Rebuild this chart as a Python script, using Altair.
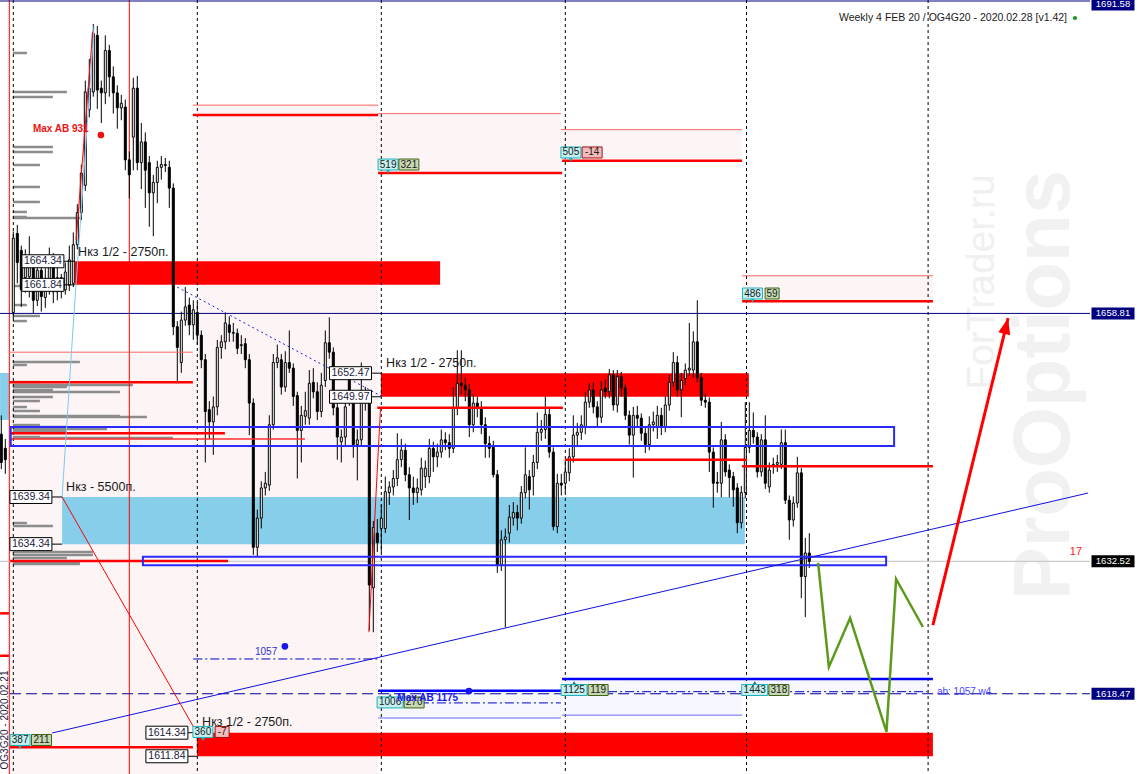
import altair as alt
import pandas as pd

W, H = 1090, 774
AXIS_PAD = 47
FONT = "Liberation Sans"
X_DOMAIN = [-3.325, 269.175]   # bar index at the left / right edge of the plot
Y_DOMAIN = [1609.96, 1692.05]  # price at the bottom / top edge of the plot

# ---------------- candles: bar index and (open, high, low, close) ----------------
candle_bars = [-3, -2] + list(range(200))
candle_ohlc = [
    (1646.0, 1648.0, 1642.3, 1643.0), (1644.5, 1645.5, 1641.8, 1643.3),
    (1658.9, 1667.5, 1658.3, 1666.8), (1667.3, 1668.2, 1662.0, 1664.2), (1665.5, 1666.0, 1659.5, 1661.3),
    (1662.6, 1665.6, 1661.0, 1664.7), (1662.7, 1667.0, 1660.5, 1664.2), (1664.2, 1665.0, 1658.8, 1660.2),
    (1660.2, 1664.3, 1659.6, 1663.4), (1663.4, 1664.8, 1659.0, 1660.6), (1660.5, 1663.6, 1659.4, 1662.3),
    (1662.1, 1665.8, 1660.8, 1664.3), (1664.3, 1665.2, 1659.9, 1661.1), (1661.1, 1663.8, 1660.2, 1662.6),
    (1662.6, 1663.0, 1660.4, 1661.3), (1661.3, 1664.2, 1660.8, 1663.2), (1661.8, 1666.0, 1661.2, 1664.5),
    (1662.0, 1667.4, 1661.6, 1666.1), (1666.1, 1670.4, 1665.6, 1669.5), (1669.5, 1674.6, 1668.7, 1673.7),
    (1672.4, 1683.5, 1671.8, 1682.3), (1680.4, 1685.8, 1679.6, 1682.7), (1682.3, 1689.5, 1681.8, 1688.5),
    (1688.3, 1689.3, 1680.5, 1682.5), (1682.7, 1683.5, 1679.0, 1682.2), (1682.2, 1688.3, 1681.0, 1686.7),
    (1686.7, 1687.3, 1681.8, 1683.9), (1683.9, 1685.0, 1680.0, 1682.2), (1682.2, 1683.0, 1678.4, 1680.6),
    (1680.6, 1682.0, 1679.3, 1681.1), (1680.7, 1681.5, 1674.0, 1675.1), (1675.1, 1676.0, 1671.0, 1673.5),
    (1677.5, 1683.8, 1674.0, 1682.7), (1682.7, 1684.0, 1674.0, 1674.8), (1674.8, 1679.0, 1672.0, 1677.0),
    (1677.0, 1678.0, 1670.0, 1674.0), (1674.8, 1675.5, 1668.0, 1671.6), (1671.6, 1673.5, 1667.0, 1672.7),
    (1672.7, 1675.0, 1670.5, 1674.3), (1674.3, 1675.5, 1673.0, 1674.6), (1674.6, 1675.3, 1673.8, 1674.5),
    (1674.3, 1675.0, 1670.0, 1672.1), (1672.1, 1672.6, 1656.5, 1657.4), (1657.4, 1658.0, 1651.4, 1655.2),
    (1653.6, 1659.0, 1652.5, 1658.1), (1658.1, 1661.6, 1657.5, 1659.5), (1659.7, 1660.5, 1656.5, 1657.6),
    (1657.6, 1660.2, 1656.0, 1659.2), (1658.9, 1660.0, 1655.5, 1656.5), (1656.5, 1657.0, 1653.0, 1653.9),
    (1653.9, 1654.5, 1643.0, 1648.4), (1648.6, 1649.5, 1645.5, 1647.3), (1647.3, 1650.0, 1643.8, 1648.9),
    (1648.9, 1656.0, 1648.0, 1655.2), (1655.2, 1656.5, 1654.0, 1655.8), (1655.8, 1658.9, 1655.0, 1657.8),
    (1657.6, 1658.5, 1655.8, 1656.8), (1656.7, 1657.8, 1655.8, 1656.8), (1656.7, 1657.2, 1654.5, 1655.1),
    (1655.4, 1656.5, 1654.5, 1655.5), (1655.6, 1656.2, 1653.0, 1653.9), (1653.9, 1654.5, 1645.9, 1649.3),
    (1649.3, 1649.8, 1633.2, 1634.0), (1634.0, 1638.0, 1633.0, 1637.1), (1637.1, 1641.0, 1636.0, 1640.3),
    (1640.3, 1642.0, 1639.5, 1640.8), (1640.6, 1648.0, 1640.0, 1647.0), (1647.0, 1654.5, 1646.5, 1653.6),
    (1653.6, 1655.5, 1653.0, 1654.1), (1653.9, 1654.5, 1650.2, 1651.0), (1651.0, 1654.8, 1650.5, 1653.6),
    (1653.6, 1657.0, 1652.5, 1653.0), (1653.0, 1653.5, 1649.0, 1650.0), (1650.1, 1650.5, 1641.3, 1646.4),
    (1646.4, 1649.0, 1643.0, 1648.0), (1647.9, 1650.5, 1647.0, 1648.5), (1647.7, 1652.8, 1647.0, 1651.4),
    (1651.5, 1653.0, 1649.8, 1650.5), (1650.5, 1651.5, 1647.5, 1648.4), (1648.4, 1652.5, 1647.8, 1651.2),
    (1651.7, 1657.0, 1651.0, 1655.7), (1655.7, 1658.4, 1654.0, 1654.7), (1654.7, 1655.2, 1648.0, 1648.8),
    (1648.8, 1649.3, 1643.3, 1645.7), (1645.2, 1646.5, 1643.0, 1645.7), (1645.7, 1650.0, 1644.8, 1648.9),
    (1651.8, 1652.5, 1649.0, 1649.7), (1649.7, 1650.2, 1643.5, 1644.9), (1644.9, 1646.5, 1641.1, 1645.4),
    (1645.4, 1653.6, 1644.8, 1649.8), (1649.9, 1651.0, 1648.5, 1649.5), (1649.4, 1650.2, 1625.2, 1630.0),
    (1629.7, 1636.8, 1625.0, 1636.1), (1635.5, 1637.0, 1633.5, 1634.5), (1636.0, 1638.5, 1633.5, 1637.1),
    (1636.0, 1641.5, 1635.5, 1639.9), (1639.8, 1641.0, 1638.5, 1640.4), (1640.4, 1642.2, 1639.5, 1641.3),
    (1641.3, 1646.1, 1640.5, 1643.3), (1643.3, 1645.5, 1642.5, 1644.3), (1644.3, 1645.0, 1641.0, 1641.7),
    (1641.7, 1642.5, 1636.9, 1640.3), (1640.3, 1641.5, 1638.5, 1639.8), (1639.8, 1641.3, 1638.7, 1640.3),
    (1640.1, 1643.5, 1639.5, 1642.4), (1641.5, 1643.2, 1640.3, 1642.4), (1641.5, 1645.5, 1640.8, 1644.5),
    (1644.5, 1645.2, 1642.0, 1643.6), (1643.6, 1645.0, 1642.5, 1644.1), (1644.1, 1646.5, 1643.5, 1645.4),
    (1645.4, 1646.2, 1644.3, 1645.1), (1645.1, 1646.0, 1643.5, 1644.5), (1644.5, 1651.0, 1644.0, 1648.8),
    (1648.8, 1654.9, 1648.0, 1651.4), (1651.4, 1654.9, 1650.2, 1651.2), (1651.2, 1652.0, 1649.5, 1650.7),
    (1650.7, 1651.3, 1645.7, 1647.0), (1647.0, 1650.2, 1646.2, 1649.3), (1649.3, 1650.0, 1647.8, 1648.8),
    (1648.8, 1649.5, 1646.0, 1647.0), (1647.0, 1647.8, 1643.5, 1645.0), (1645.0, 1645.8, 1643.5, 1644.5),
    (1644.6, 1645.3, 1641.4, 1641.7), (1641.7, 1642.2, 1631.3, 1632.1), (1632.1, 1635.8, 1631.5, 1634.8),
    (1634.8, 1636.0, 1625.5, 1635.1), (1635.5, 1638.5, 1634.5, 1637.2), (1637.1, 1638.8, 1636.3, 1637.7),
    (1637.7, 1638.5, 1635.8, 1637.1), (1637.1, 1640.5, 1636.5, 1639.8), (1639.8, 1644.6, 1639.2, 1641.7),
    (1641.5, 1642.2, 1638.0, 1640.1), (1641.5, 1643.8, 1639.5, 1643.0), (1643.0, 1648.3, 1642.3, 1646.2),
    (1646.2, 1647.5, 1645.3, 1646.5), (1646.5, 1650.0, 1645.5, 1648.1), (1648.1, 1648.8, 1643.5, 1644.1),
    (1644.1, 1644.6, 1635.8, 1636.2), (1636.2, 1641.8, 1635.5, 1640.8), (1640.8, 1641.8, 1639.5, 1640.6),
    (1640.8, 1643.2, 1639.8, 1642.0), (1641.9, 1644.5, 1641.0, 1643.6), (1643.6, 1648.0, 1643.0, 1645.9),
    (1645.9, 1647.2, 1644.8, 1646.2), (1646.2, 1648.0, 1645.4, 1647.0), (1646.8, 1650.4, 1646.0, 1649.4),
    (1649.4, 1651.4, 1648.8, 1650.7), (1650.7, 1651.5, 1648.2, 1648.9), (1648.9, 1649.5, 1646.8, 1647.8),
    (1647.8, 1651.6, 1647.2, 1650.7), (1650.9, 1651.8, 1649.8, 1650.5), (1650.5, 1652.9, 1649.8, 1652.3),
    (1652.3, 1652.8, 1648.5, 1649.1), (1649.1, 1652.8, 1648.3, 1652.1), (1652.1, 1652.6, 1650.0, 1650.9),
    (1650.9, 1651.3, 1647.5, 1648.0), (1648.0, 1648.5, 1644.9, 1645.9), (1645.9, 1648.9, 1641.4, 1648.0),
    (1648.0, 1649.0, 1646.8, 1647.7), (1647.7, 1648.2, 1645.3, 1646.1), (1646.1, 1646.8, 1644.0, 1644.9),
    (1644.9, 1647.9, 1644.3, 1647.0), (1647.0, 1648.4, 1646.3, 1647.3), (1646.7, 1649.0, 1645.5, 1648.0),
    (1648.0, 1648.8, 1645.9, 1646.8), (1646.8, 1650.0, 1646.2, 1649.1), (1649.1, 1652.3, 1648.5, 1651.5),
    (1651.5, 1654.7, 1651.0, 1653.6), (1653.6, 1654.3, 1650.0, 1650.7), (1650.7, 1652.5, 1647.8, 1651.7),
    (1651.9, 1653.5, 1651.2, 1652.8), (1652.8, 1657.8, 1652.2, 1653.0), (1652.8, 1656.9, 1652.0, 1655.8),
    (1655.8, 1660.2, 1651.5, 1652.0), (1652.0, 1652.5, 1649.0, 1649.6), (1649.6, 1650.3, 1648.8, 1649.4),
    (1649.4, 1649.9, 1642.0, 1644.1), (1644.1, 1644.6, 1638.2, 1640.8), (1640.9, 1642.0, 1639.8, 1640.8),
    (1640.8, 1647.3, 1639.3, 1645.4), (1645.4, 1646.0, 1641.5, 1642.0), (1642.2, 1642.8, 1639.3, 1641.4),
    (1641.5, 1642.0, 1638.3, 1640.1), (1640.3, 1640.8, 1635.5, 1636.6), (1636.6, 1640.5, 1636.0, 1639.8),
    (1639.8, 1649.4, 1639.2, 1644.6), (1644.6, 1649.4, 1644.0, 1646.4), (1646.4, 1648.3, 1645.0, 1645.7),
    (1645.7, 1646.2, 1641.4, 1642.0), (1642.0, 1646.0, 1641.5, 1645.4), (1645.4, 1648.0, 1640.2, 1640.8),
    (1640.4, 1643.0, 1639.8, 1642.2), (1642.6, 1643.5, 1641.8, 1642.8), (1642.8, 1643.8, 1642.0, 1643.0),
    (1642.8, 1646.5, 1642.3, 1645.1), (1645.1, 1646.5, 1638.6, 1639.0), (1639.0, 1639.5, 1634.8, 1636.9),
    (1636.9, 1639.4, 1636.2, 1638.7), (1638.7, 1643.6, 1638.2, 1641.9), (1641.9, 1642.4, 1628.6, 1630.9),
    (1630.9, 1635.0, 1626.6, 1633.4), (1633.4, 1635.5, 1631.8, 1632.5),
]

price_ticks = [1612.40, 1615.90, 1619.40, 1622.90, 1626.40, 1629.90, 1633.40, 1636.90, 1640.40,
               1643.90, 1647.40, 1650.90, 1654.40, 1657.90, 1661.40, 1664.90, 1668.40, 1671.90,
               1675.40, 1678.90, 1682.40, 1685.90, 1689.40]

# day separators (bar index) and red vertical markers
day_starts = [0, 46, 92, 138, 183.3, 228.7]
red_verticals = [-1.0, 29.0]

# volume profile of the previous week (price level, volume in bar widths)
profile_price = [1686.43, 1682.29, 1681.76, 1676.46, 1675.93, 1674.55, 1672.22, 1670.63, 1669.57, 1669.04,
                 1668.93, 1661.72, 1659.70, 1658.54, 1658.00, 1653.66, 1653.34, 1651.53, 1651.22, 1651.00,
                 1650.69, 1650.47, 1649.94, 1649.52, 1648.88, 1648.46, 1647.93, 1647.82, 1646.97, 1646.76,
                 1646.55, 1646.34, 1645.70, 1645.60, 1636.58, 1636.26, 1633.50, 1633.19, 1632.87, 1632.45,
                 1632.23]
profile_volume = [3.5, 13.5, 10, 10, 10, 6.75, 6.75, 6.75, 3.5, 3.5,
                  16.75, 3.5, 3.5, 6.75, 3.5, 16.75, 3.5, 6.75, 30, 13.5,
                  10, 26.75, 10, 6.75, 3.5, 6.75, 26.75, 33.5, 6.75, 13.5,
                  23.5, 13.5, 6.75, 40, 3.5, 10, 20, 20, 13.5, 16.75,
                  16.75]
profile_start = -0.1

# shaded option ranges
pink_x0 = [-0.8, 45.9, 91.2, 136.7, 182.2]
pink_x1 = [45.9, 91.2, 136.7, 182.2, 229.9]
pink_top = [1654.7, 1680.9, 1680.0, 1678.3, 1662.8]
pink_bot = [Y_DOMAIN[0], Y_DOMAIN[0], 1673.7, 1675.0, 1660.1]
lav_x0 = [91.2, 137.2, 182.2]
lav_x1 = [136.9, 182.2, 228.8]
lav_top = [1618.8, 1620.04, 1620.04]
lav_bot = [1615.9, 1616.2, 1618.5]

# red zones (Нкз) and light blue zone
red_zone_x0 = [15.4, 91.9, 45.9]
red_zone_x1 = [106.7, 183.9, 229.9]
red_zone_lo = [1661.84, 1649.97, 1611.84]
red_zone_hi = [1664.34, 1652.47, 1614.34]
blue_zone_x0 = [12.2, -3.3]
blue_zone_x1 = [182.9, -1.1]
blue_zone_lo = [1634.34, 1647.5]
blue_zone_hi = [1639.34, 1652.5]

# blue outlined rectangles
box_x0 = [-0.65, 32.4]
box_x1 = [220.2, 218.2]
box_lo = [1644.75, 1632.1]
box_hi = [1646.76, 1633.0]

# horizontal levels
light_red_x0 = [-1.0, 44.9, 91.2, 136.9, 182.2]
light_red_x1 = [44.9, 91.2, 136.9, 182.2, 229.9]
light_red_p = [1654.7, 1680.9, 1680.0, 1678.3, 1662.8]
red_x0 = [-1.0, 44.9, 91.2, 137.2, 182.2, 91.0, 137.9, 182.2, -0.8, -0.8, -0.8, -3.3, -3.3]
red_x1 = [44.9, 91.2, 137.2, 182.2, 229.9, 137.4, 183.4, 229.9, 52.9, 53.7, 44.9, -1.1, -1.1]
red_p = [1651.5, 1679.85, 1673.7, 1675.0, 1660.1, 1648.8, 1643.3, 1642.6, 1646.1, 1632.55, 1612.8, 1627.0, 1622.5]
red_thin_x0 = [-0.8]
red_thin_x1 = [72.9]
red_thin_p = [1645.5]
blue_thick_x0 = [91.2, 137.2]
blue_thick_x1 = [137.9, 229.9]
blue_thick_p = [1618.8, 1620.04]
blue_thin_x0 = [91.2, 137.2]
blue_thin_x1 = [136.9, 182.2]
blue_thin_p = [1615.9, 1616.2]
dashdot_x0 = [45.0, 97.4, 148.7]
dashdot_x1 = [91.2, 136.9, 228.5]
dashdot_p = [1622.16, 1617.5, 1618.69]
bid_level = 1658.81
last_price = 1632.52
ab_level = 1618.47
ab_level_start = -0.8

# lines drawn on the chart (bar index, price)
blue_trend = [(9.7, 1614.31), (268.7, 1639.76)]
blue_dotted = [(41.0, 1661.6), (92.4, 1649.95)]
red_diag = [(12.2, 1639.34), (45.4, 1614.7)]
red_zig1 = [(15.7, 1666.6), (19.85, 1688.7)]
red_zig2 = [(88.9, 1625.0), (91.8, 1648.8)]
cyan_line = [(12.2, 1639.34), (14.9, 1657.05), (20.2, 1689.3)]
red_arrow = [(229.9, 1625.76), (248.7, 1658.3)]
green_path = [(201.2, 1632.34), (203.9, 1621.31), (209.2, 1626.5), (218.3, 1614.42), (220.7, 1630.64), (227.4, 1625.55)]

# price tags with connectors
tag_bar = [7.4, 7.4, 4.4, 4.4, 84.3, 84.3, 38.4, 38.4]
tag_price = [1664.34, 1661.84, 1639.34, 1634.34, 1652.47, 1649.97, 1614.34, 1611.84]
conn_x0 = [12.4, 12.4, 9.7, 9.7, 89.7, 89.7, 43.7, 43.7]
conn_x1 = [15.4, 15.4, 12.2, 12.2, 91.9, 91.9, 45.9, 45.9]

# zone captions
cap_text = ["Нкз 1/2 - 2750п.", "Нкз 1/2 - 2750п.", "Нкз - 5500п.", "Нкз 1/2 - 2750п."]
cap_bar = [16.2, 93.2, 13.2, 47.2]
cap_price = [1665.3, 1653.55, 1640.4, 1615.47]

# option volume badges
badge_text = ["519", "321", "505", "-14", "486", "59", "360", "-7", "387", "211",
              "1006", "270", "1125", "119", "1443", "318"]
badge_bar = [93.7, 98.9, 139.4, 144.7, 184.8, 189.7, 47.4, 52.2, 1.7, 7.05,
             94.2, 100.2, 140.2, 146.2, 185.35, 191.4]
badge_price = [1674.6, 1674.6, 1675.88, 1675.88, 1660.92, 1660.92, 1614.42, 1614.42, 1613.57, 1613.57,
               1617.55, 1617.55, 1618.87, 1618.87, 1618.87, 1618.87]
badge_kind = ["oi", "chg", "oi", "neg", "oi", "chg", "oi", "neg", "oi", "chg",
              "oi", "chg", "oi", "chg", "oi", "chg"]
badge_pointer = ["down", "", "down", "", "down", "", "down", "", "down", "",
                 "up", "", "up", "", "up", ""]

# markers
max_ab = [("Max AB 931", 4.9, 1678.4, 21.9, 1677.73, "#ee1111"),
          ("Max AB 1175", 96.0, 1618.05, 113.9, 1618.76, "#1515ee")]
ab_1057 = ("1057", 63.2, 1622.9, 67.9, 1623.5)
ab_note = ("ab: 1057 w4", 230.9, 1618.66)
strike_note = ("17", 267.2, 1633.5)
axis_flags = [("1691.58", 1691.58, "#000080"), ("1658.81", 1658.81, "#000080"),
              ("1632.52", 1632.52, "#000000"), ("1618.47", 1618.47, "#000080")]
title_text = "Weekly 4 FEB 20 / OG4G20 - 2020.02.28 [v1.42]"
side_text = "OG3G20 - 2020.02.21"

# ---------------- helpers ----------------
xs = alt.Scale(domain=X_DOMAIN, nice=False, zero=False, padding=0)
ys = alt.Scale(domain=Y_DOMAIN, nice=False, zero=False, padding=0)


def X(f):
    return alt.X(f, type="quantitative", scale=xs, axis=None, title=None)


def Y(f):
    return alt.Y(f, type="quantitative", scale=ys, axis=None, title=None)


def box_path(w, h):
    r = h / w
    return f"M-1,-{r:.4f}L1,-{r:.4f}L1,{r:.4f}L-1,{r:.4f}Z"


def segs(x0, x1, p):
    return pd.DataFrame({"x0": x0, "x1": x1, "p": p})


def hrule(df, **kw):
    return alt.Chart(df).mark_rule(**kw).encode(x=X("x0"), x2="x1", y=Y("p"))


def poly(points, **kw):
    df = pd.DataFrame({"b": [p[0] for p in points], "v": [p[1] for p in points], "k": list(range(len(points)))})
    return alt.Chart(df).mark_line(**kw).encode(x=X("b"), y=Y("v"), order="k:Q")


layers = []

# axis carrier
layers.append(alt.Chart(pd.DataFrame({"p": price_ticks})).mark_rule(opacity=0).encode(
    y=alt.Y("p:Q", scale=ys, title=None, axis=alt.Axis(
        orient="right", values=price_ticks, format=".2f", grid=False, domainColor="#000000",
        tickColor="#000000", tickSize=4, labelFont=FONT, labelFontSize=9.5, labelColor="#000000",
        labelPadding=2, labelOverlap=False, labelFlush=False))))

# watermark
layers.append(alt.Chart(pd.DataFrame({"t": ["ProOptions"]})).mark_text(
    angle=270, fontSize=79, font=FONT, fontWeight="bold", color="#f1f1f1", align="center", baseline="middle"
).encode(x=alt.value(1045), y=alt.value(385), text="t:N"))
layers.append(alt.Chart(pd.DataFrame({"t": ["ForTrader.ru"]})).mark_text(
    angle=270, fontSize=39, font=FONT, color="#f0f0f0", align="center", baseline="middle"
).encode(x=alt.value(982), y=alt.value(282), text="t:N"))

# shaded ranges
layers.append(alt.Chart(pd.DataFrame({"x0": pink_x0, "x1": pink_x1, "t": pink_top, "b": pink_bot}))
              .mark_rect(color="#fdf5f5").encode(x=X("x0"), x2="x1", y=Y("t"), y2="b"))
layers.append(alt.Chart(pd.DataFrame({"x0": lav_x0, "x1": lav_x1, "t": lav_top, "b": lav_bot}))
              .mark_rect(color="#f7f7ff").encode(x=X("x0"), x2="x1", y=Y("t"), y2="b"))

# volume profile
prof = pd.DataFrame({"p": profile_price, "x0": profile_start,
                     "x1": [profile_start + v for v in profile_volume]})
layers.append(hrule(prof, color="#8c8c8c", strokeWidth=2.5))

# zones
layers.append(alt.Chart(pd.DataFrame({"x0": blue_zone_x0, "x1": blue_zone_x1, "lo": blue_zone_lo, "hi": blue_zone_hi}))
              .mark_rect(color="#87ceeb").encode(x=X("x0"), x2="x1", y=Y("lo"), y2="hi"))
layers.append(alt.Chart(pd.DataFrame({"x0": red_zone_x0, "x1": red_zone_x1, "lo": red_zone_lo, "hi": red_zone_hi}))
              .mark_rect(color="#ff0000").encode(x=X("x0"), x2="x1", y=Y("lo"), y2="hi"))

# verticals
layers.append(alt.Chart(pd.DataFrame({"b": day_starts})).mark_rule(
    color="#000000", strokeWidth=1, strokeDash=[3, 3]).encode(x=X("b")))
layers.append(alt.Chart(pd.DataFrame({"b": red_verticals})).mark_rule(
    color="#ff0000", strokeWidth=1).encode(x=X("b")))

# full-width levels
layers.append(alt.Chart(pd.DataFrame({"p": [last_price]})).mark_rule(color="#c0c0c0", strokeWidth=1).encode(y=Y("p")))
layers.append(alt.Chart(pd.DataFrame({"p": [bid_level]})).mark_rule(color="#000080", strokeWidth=1).encode(y=Y("p")))

# candles
cdf = pd.DataFrame({
    "i": candle_bars,
    "o": [c[0] for c in candle_ohlc], "h": [c[1] for c in candle_ohlc],
    "l": [c[2] for c in candle_ohlc], "c": [c[3] for c in candle_ohlc],
})
cdf["fill"] = ["#ffffff" if c >= o else "#000000" for o, c in zip(cdf["o"], cdf["c"])]
layers.append(alt.Chart(cdf).mark_rule(color="#000000", strokeWidth=1).encode(x=X("i"), y=Y("l"), y2="h"))
layers.append(alt.Chart(cdf).mark_bar(size=2, stroke="#000000", strokeWidth=1).encode(
    x=X("i"), y=Y("o"), y2="c", fill=alt.Fill("fill:N", scale=None)))

# horizontal segment levels
layers.append(hrule(segs(light_red_x0, light_red_x1, light_red_p), color="#ff6464", strokeWidth=1))
layers.append(hrule(segs(red_thin_x0, red_thin_x1, red_thin_p), color="#ff3030", strokeWidth=1.5))
layers.append(hrule(segs(red_x0, red_x1, red_p), color="#ff0000", strokeWidth=2.5))
layers.append(hrule(segs(blue_thin_x0, blue_thin_x1, blue_thin_p), color="#6a6aff", strokeWidth=1))
layers.append(hrule(segs(dashdot_x0, dashdot_x1, dashdot_p), color="#0000c8", strokeWidth=1, strokeDash=[9, 3, 2, 3]))
layers.append(hrule(segs([ab_level_start], [X_DOMAIN[1]], [ab_level]),
                    color="#000090", strokeWidth=1.2, strokeDash=[11, 5]))
layers.append(hrule(segs(blue_thick_x0, blue_thick_x1, blue_thick_p), color="#0000ff", strokeWidth=2.5))

# blue outlined rectangles
layers.append(alt.Chart(pd.DataFrame({"x0": box_x0, "x1": box_x1, "lo": box_lo, "hi": box_hi})).mark_rect(
    fill=None, fillOpacity=0, stroke="#2a2aff", strokeWidth=2).encode(x=X("x0"), x2="x1", y=Y("lo"), y2="hi"))

# drawn lines
layers.append(poly(blue_trend, color="#1010e0", strokeWidth=1))
layers.append(poly(blue_dotted, color="#2020e0", strokeWidth=1, strokeDash=[2, 3]))
layers.append(poly(red_diag, color="#ff0000", strokeWidth=1))
layers.append(poly(red_zig1, color="#ff0000", strokeWidth=1))
layers.append(poly(red_zig2, color="#ff0000", strokeWidth=1))
layers.append(poly(cyan_line, color="#7ec8f0", strokeWidth=1))
layers.append(poly(green_path, color="#5c9a1c", strokeWidth=2.5))
layers.append(poly(red_arrow, color="#ff0000", strokeWidth=3))
head = pd.DataFrame({"b": [red_arrow[1][0]], "v": [red_arrow[1][1]]})
layers.append(alt.Chart(head).mark_point(
    shape="M0,0L0.5,1.3L-0.5,1.3Z", size=600, filled=True, color="#ff0000", opacity=1, angle=14
).encode(x=X("b"), y=Y("v")))

# connectors and price tags
layers.append(hrule(segs(conn_x0, conn_x1, tag_price), color="#000000", strokeWidth=1))
tags = pd.DataFrame({"b": tag_bar, "p": tag_price, "t": [f"{v:.2f}" for v in tag_price]})
layers.append(alt.Chart(tags).mark_point(
    shape=box_path(42, 13), size=42 * 42, filled=True, fill="#ffffff", stroke="#000000", strokeWidth=1, opacity=1
).encode(x=X("b"), y=Y("p")))
layers.append(alt.Chart(tags).mark_text(font=FONT, fontSize=10.5, color="#1a1a3a").encode(
    x=X("b"), y=Y("p"), text="t:N"))

# captions
caps = pd.DataFrame({"t": cap_text, "b": cap_bar, "p": cap_price})
layers.append(alt.Chart(caps).mark_text(font=FONT, fontSize=12.5, color="#1a1a1a", align="left",
                                        baseline="middle").encode(x=X("b"), y=Y("p"), text="t:N"))

# badges
kind_fill = {"oi": "#c4f0f0", "chg": "#c8d8b4", "neg": "#f4bcbc"}
kind_stroke = {"oi": "#20b0b8", "chg": "#3c6414", "neg": "#a01010"}
bdf = pd.DataFrame({"t": badge_text, "b": badge_bar, "p": badge_price, "k": badge_kind, "ptr": badge_pointer})
bdf["w"] = [6 * len(t) + 2 for t in badge_text]
bdf["path"] = [box_path(w, 11) for w in bdf["w"]]
bdf["size"] = [w * w for w in bdf["w"]]
bdf["fill"] = [kind_fill[k] for k in badge_kind]
bdf["stroke"] = [kind_stroke[k] for k in badge_kind]
down = bdf[bdf["ptr"] == "down"]
up = bdf[bdf["ptr"] == "up"]
layers.append(alt.Chart(down).mark_point(shape="triangle-down", size=22, filled=True, color="#20b0b8",
                                         opacity=1, yOffset=7).encode(x=X("b"), y=Y("p")))
layers.append(alt.Chart(up).mark_point(shape="triangle-up", size=22, filled=True, color="#208080",
                                       opacity=1, yOffset=-7).encode(x=X("b"), y=Y("p")))
layers.append(alt.Chart(bdf).mark_point(filled=True, strokeWidth=1, opacity=1).encode(
    x=X("b"), y=Y("p"), shape=alt.Shape("path:N", scale=None), size=alt.Size("size:Q", scale=None),
    fill=alt.Fill("fill:N", scale=None), stroke=alt.Stroke("stroke:N", scale=None)))
layers.append(alt.Chart(bdf).mark_text(font=FONT, fontSize=10, color="#1a1a1a").encode(
    x=X("b"), y=Y("p"), text="t:N"))

# max AB markers
mdf = pd.DataFrame({"t": [m[0] for m in max_ab], "tb": [m[1] for m in max_ab], "tp": [m[2] for m in max_ab],
                    "db": [m[3] for m in max_ab], "dp": [m[4] for m in max_ab], "c": [m[5] for m in max_ab]})
layers.append(alt.Chart(mdf).mark_text(font=FONT, fontSize=10, fontWeight="bold", align="left").encode(
    x=X("tb"), y=Y("tp"), text="t:N", color=alt.Color("c:N", scale=None)))
layers.append(alt.Chart(mdf).mark_point(filled=True, size=45, opacity=1).encode(
    x=X("db"), y=Y("dp"), color=alt.Color("c:N", scale=None)))
adf = pd.DataFrame({"t": [ab_1057[0]], "b": [ab_1057[1]], "p": [ab_1057[2]], "db": [ab_1057[3]], "dp": [ab_1057[4]]})
layers.append(alt.Chart(adf).mark_text(font=FONT, fontSize=10, color="#3030d0").encode(x=X("b"), y=Y("p"), text="t:N"))
layers.append(alt.Chart(adf).mark_point(filled=True, size=45, opacity=1, color="#1515ee").encode(x=X("db"), y=Y("dp")))
layers.append(alt.Chart(pd.DataFrame({"t": [ab_note[0]], "b": [ab_note[1]], "p": [ab_note[2]]})).mark_text(
    font=FONT, fontSize=10, color="#4848ff", align="left").encode(x=X("b"), y=Y("p"), text="t:N"))
layers.append(alt.Chart(pd.DataFrame({"t": [strike_note[0]], "b": [strike_note[1]], "p": [strike_note[2]]})).mark_text(
    font=FONT, fontSize=11, color="#ff2020", align="right").encode(x=X("b"), y=Y("p"), text="t:N"))

# axis flags
fdf = pd.DataFrame({"t": [f[0] for f in axis_flags], "p": [f[1] for f in axis_flags], "c": [f[2] for f in axis_flags]})
layers.append(alt.Chart(fdf).mark_point(shape=box_path(43, 12), size=43 * 43, filled=True, opacity=1).encode(
    x=alt.value(W + 23), y=Y("p"), color=alt.Color("c:N", scale=None)))
layers.append(alt.Chart(fdf).mark_text(font=FONT, fontSize=9.5, color="#ffffff").encode(
    x=alt.value(W + 23), y=Y("p"), text="t:N"))

# top frame line, title and side label
layers.append(alt.Chart(pd.DataFrame({"a": [0]})).mark_rule(color="#000080", strokeWidth=1).encode(
    x=alt.value(0), x2=alt.value(W), y=alt.value(1)))
layers.append(alt.Chart(pd.DataFrame({"t": [title_text]})).mark_text(
    font=FONT, fontSize=10.5, color="#1a1a1a", align="right", baseline="middle").encode(
    x=alt.value(1067), y=alt.value(18), text="t:N"))
layers.append(alt.Chart(pd.DataFrame({"a": [0]})).mark_point(filled=True, size=18, color="#1a9a1a", opacity=1).encode(
    x=alt.value(1075), y=alt.value(18)))
layers.append(alt.Chart(pd.DataFrame({"t": [side_text]})).mark_text(
    font=FONT, fontSize=10, color="#202040", angle=270, align="center", baseline="middle").encode(
    x=alt.value(5), y=alt.value(720), text="t:N"))

chart = alt.layer(*layers).properties(
    width=W, height=H,
    padding={"left": 0, "top": 0, "right": AXIS_PAD, "bottom": 0},
    autosize=alt.AutoSizeParams(type="none"),
    background="#ffffff",
).configure_view(stroke=None)

chart.save("out.html", embed_options={"renderer": "svg", "actions": False})
